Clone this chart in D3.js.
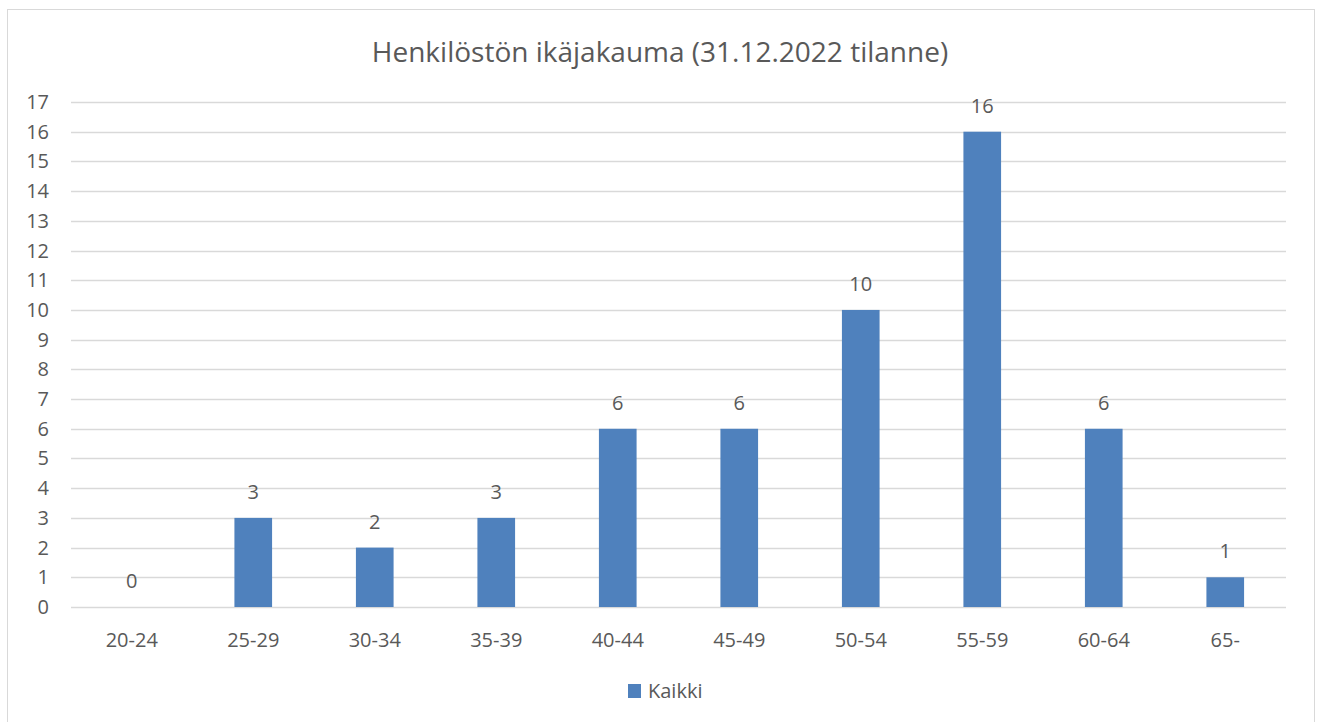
<!DOCTYPE html>
<html lang="fi">
<head>
<meta charset="utf-8">
<title>Henkilöstön ikäjakauma</title>
<script src="https://cdn.jsdelivr.net/npm/d3@7"></script>
<style>
  body { margin: 0; background: #fff; }
  svg text { font-family: "Open Sans", "Noto Sans", sans-serif; fill: #595959; }
</style>
</head>
<body>
<svg id="chart" width="1318" height="722"></svg>
<script>
// data
var categories = ["20-24", "25-29", "30-34", "35-39", "40-44", "45-49", "50-54", "55-59", "60-64", "65-"];
var values = [0, 3, 2, 3, 6, 6, 10, 16, 6, 1];
var seriesName = "Kaikki";
var yTicks = d3.range(0, 18);

var svg = d3.select("#chart");
var barColor = "#4f81bd";

// outer frame
svg.append("rect")
  .attr("x", 7.5).attr("y", 9.5)
  .attr("width", 1307).attr("height", 720)
  .attr("fill", "#fff").attr("stroke", "#d9d9d9");

svg.append("text")
  .attr("x", 660).attr("y", 62)
  .attr("text-anchor", "middle")
  .style("font-size", "28px")
  .text("Henkilöstön ikäjakauma (31.12.2022 tilanne)");

var x = d3.scaleBand().domain(categories).range([71, 1286]).paddingInner(0.69).paddingOuter(0.345);
var y = d3.scaleLinear().domain([0, 17]).range([607, 102]);

// gridlines
svg.append("g").selectAll("line")
  .data(yTicks)
  .join("line")
  .attr("x1", 71).attr("x2", 1286)
  .attr("y1", function (d) { return Math.round(y(d)) + 0.5; })
  .attr("y2", function (d) { return Math.round(y(d)) + 0.5; })
  .attr("stroke", "#d9d9d9").attr("stroke-width", 1.5);

// y labels
svg.append("g").selectAll("text")
  .data(yTicks)
  .join("text")
  .attr("x", 49).attr("y", function (d) { return y(d) + 7; })
  .attr("text-anchor", "end")
  .style("font-size", "20px")
  .text(function (d) { return d; });

// bars
svg.append("g").selectAll("rect")
  .data(values)
  .join("rect")
  .attr("x", function (d, i) { return x(categories[i]); })
  .attr("width", x.bandwidth())
  .attr("y", function (d) { return y(d); })
  .attr("height", function (d) { return y(0) - y(d); })
  .attr("fill", barColor);

// value labels
svg.append("g").selectAll("text")
  .data(values)
  .join("text")
  .attr("x", function (d, i) { return x(categories[i]) + x.bandwidth() / 2; })
  .attr("y", function (d) { return y(d) - 19; })
  .attr("text-anchor", "middle")
  .style("font-size", "20px")
  .text(function (d) { return d; });

// x labels
svg.append("g").selectAll("text")
  .data(categories)
  .join("text")
  .attr("x", function (d) { return x(d) + x.bandwidth() / 2; })
  .attr("y", 647)
  .attr("text-anchor", "middle")
  .style("font-size", "20px")
  .text(function (d) { return d; });

// legend
var legend = svg.append("g").attr("transform", "translate(628,684)");
legend.append("rect").attr("width", 13).attr("height", 14).attr("fill", barColor);
legend.append("text").attr("x", 20).attr("y", 14).style("font-size", "20px").text(seriesName);
</script>
</body>
</html>
